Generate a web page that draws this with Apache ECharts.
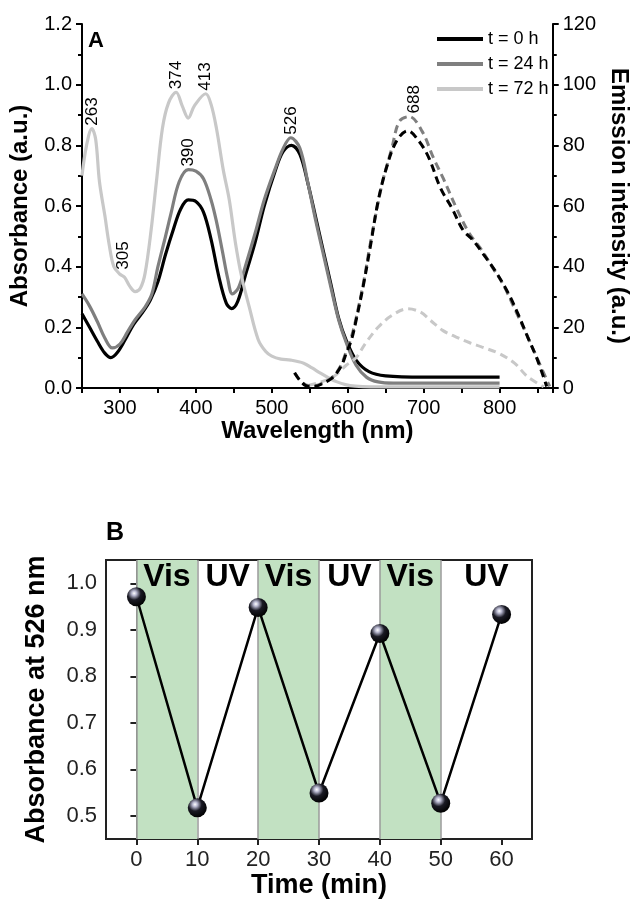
<!DOCTYPE html>
<html>
<head>
<meta charset="utf-8">
<script src="https://cdn.jsdelivr.net/npm/echarts@6/dist/echarts.min.js"></script>
<style>
  html, body { margin: 0; padding: 0; background: #fff; }
  #main { width: 639px; height: 902px; }
</style>
</head>
<body>
<div id="main"></div>
<script>
// ---- panel A: absorbance (solid) ----
var wl0 = [250, 260, 270, 280, 288, 296, 307, 318, 330, 340, 350, 360, 370, 380, 390, 400, 410, 420, 430, 440, 447, 455, 465, 478, 490, 505, 515, 526, 537, 548, 558, 568, 578, 588, 598, 611, 628, 650, 700, 750, 800]
var abs0 = [0.245, 0.20, 0.155, 0.115, 0.10, 0.115, 0.16, 0.21, 0.25, 0.29, 0.35, 0.44, 0.52, 0.59, 0.62, 0.615, 0.58, 0.49, 0.37, 0.28, 0.262, 0.285, 0.37, 0.48, 0.60, 0.72, 0.78, 0.80, 0.77, 0.67, 0.56, 0.45, 0.34, 0.23, 0.157, 0.092, 0.054, 0.04, 0.036, 0.036, 0.036]

var wl24 = [250, 260, 270, 280, 290, 300, 310, 320, 333, 342, 350, 360, 367, 378, 390, 400, 410, 420, 427, 435, 442, 448, 456, 465, 478, 490, 504, 515, 525, 537, 548, 558, 568, 578, 588, 598, 611, 625, 640, 660, 800]
var abs24 = [0.31, 0.27, 0.22, 0.165, 0.132, 0.145, 0.185, 0.225, 0.267, 0.31, 0.40, 0.50, 0.573, 0.68, 0.72, 0.715, 0.69, 0.62, 0.55, 0.45, 0.36, 0.31, 0.33, 0.40, 0.51, 0.62, 0.72, 0.79, 0.825, 0.79, 0.67, 0.55, 0.44, 0.33, 0.225, 0.15, 0.075, 0.035, 0.02, 0.016, 0.016]

var wl72 = [250, 256, 263, 268, 273, 280, 286, 292, 300, 306, 313, 320, 327, 333, 341, 348, 356, 364, 374, 382, 390, 398, 413, 420, 427, 436, 444, 452, 460, 470, 482, 492, 500, 512, 525, 542, 553, 564, 575, 585, 597, 610, 630, 800]
var abs72 = [0.70, 0.80, 0.855, 0.82, 0.68, 0.57, 0.47, 0.40, 0.375, 0.365, 0.335, 0.318, 0.33, 0.377, 0.52, 0.68, 0.857, 0.94, 0.975, 0.93, 0.89, 0.93, 0.97, 0.935, 0.857, 0.72, 0.62, 0.48, 0.37, 0.27, 0.16, 0.12, 0.105, 0.095, 0.092, 0.082, 0.066, 0.049, 0.033, 0.021, 0.011, 0.006, 0.004, 0.004]

// ---- panel A: emission (dashed) ----
var ewl0 = [530, 538, 548, 558, 568, 578, 585, 592, 598, 605, 611, 621, 630, 640, 651, 664, 679, 694, 707, 722, 737, 752, 764, 779, 794, 812, 825, 837, 850, 862]
var em0 = [5.0, 2.2, 0.5, 0.6, 1.6, 3.0, 4.8, 7.5, 11.4, 16, 22.3, 34.4, 47, 61.6, 72.6, 81.3, 84.8, 81.3, 75.8, 66, 59.4, 52, 49, 44, 38.7, 31, 24, 16.8, 9.2, 0.5]

var ewl24 = [530, 538, 548, 558, 568, 578, 585, 592, 598, 605, 611, 621, 630, 645, 658, 668, 681, 698, 713, 726, 743, 760, 775, 790, 805, 820, 835, 850, 866]
var em24 = [5.0, 2.4, 0.8, 0.8, 1.8, 3.2, 5, 8, 12, 17, 23, 35, 48, 67, 79, 87.9, 89.5, 84.6, 75.8, 69, 59.4, 51, 46, 40, 34, 26, 18, 9.5, 0.5]

var ewl72 = [548, 565, 581, 598, 611, 623, 640, 658, 679, 696, 709, 725, 743, 760, 777, 799, 820, 837, 858]
var em72 = [0.8, 2.0, 3.7, 7.5, 10, 14.6, 20, 23.9, 26.1, 25, 22.3, 19, 16.8, 15, 13.5, 11.4, 8.1, 3.7, 0.4]

// peak labels
var peakWl = [263, 305, 374, 390, 413, 526]
var peakAbs = [0.855, 0.38, 0.975, 0.72, 0.97, 0.825]
var emPeakWl = [688]
var emPeakVal = [89.5]

// ---- panel B ----
var times = [0, 10, 20, 30, 40, 50, 60]
var abs526 = [0.971, 0.517, 0.948, 0.549, 0.892, 0.527, 0.933]
var visBands = [[0, 10], [20, 30], [40, 50]]
var uvBands = [[10, 20], [30, 40], [50, 65]]
var bandEdges = [0, 10, 20, 30, 40, 50]

var FONT = 'Liberation Sans, Arial, sans-serif'
var names = ['t = 0 h', 't = 24 h', 't = 72 h']
var colors = ['#000000', '#7f7f7f', '#c8c8c8']

function zip (xs, ys) {
  return xs.map(function (x, i) { return [x, ys[i]] })
}

function absSeries (name, color, xs, ys) {
  return {
    name: name,
    type: 'line',
    xAxisIndex: 0,
    yAxisIndex: 0,
    data: zip(xs, ys),
    showSymbol: false,
    symbol: 'none',
    smooth: 0.35,
    lineStyle: { color: color, width: 3.2 },
    itemStyle: { color: color },
    z: 3
  }
}

function emSeries (name, color, xs, ys) {
  return {
    name: name,
    type: 'line',
    xAxisIndex: 0,
    yAxisIndex: 1,
    data: zip(xs, ys),
    showSymbol: false,
    symbol: 'none',
    smooth: 0.35,
    lineStyle: { color: color, width: 3, type: [8, 5] },
    itemStyle: { color: color },
    z: 4
  }
}

var peakLabel = {
  show: true,
  rotate: 90,
  position: 'top',
  distance: 3,
  align: 'left',
  verticalAlign: 'middle',
  fontSize: 17,
  color: '#000',
  fontFamily: FONT,
  formatter: function (p) { return String(p.value[0]) }
}

var axisLine2 = { show: true, lineStyle: { color: '#000', width: 2 } }

var ball = {
  type: 'radial',
  x: 0.38,
  y: 0.32,
  r: 0.7,
  colorStops: [
    { offset: 0, color: '#ffffff' },
    { offset: 0.18, color: '#b8b8d0' },
    { offset: 0.5, color: '#1a1a24' },
    { offset: 1, color: '#000000' }
  ]
}

var option = {
  backgroundColor: '#fff',
  animation: false,
  textStyle: { fontFamily: FONT },
  grid: [
    { left: 82, top: 24, width: 483, height: 364 },
    { left: 106, top: 560, width: 426, height: 279, show: true, borderColor: '#222', borderWidth: 2 }
  ],
  legend: {
    data: names,
    orient: 'vertical',
    left: 437,
    top: 30,
    padding: 0,
    icon: 'rect',
    itemWidth: 46,
    itemHeight: 4,
    itemGap: 7,
    textStyle: { fontSize: 18, color: '#000', fontFamily: FONT, lineHeight: 18 }
  },
  graphic: [
    { type: 'text', left: 88, top: 30, style: { text: 'A', fontSize: 22, fontWeight: 'bold', fill: '#000', fontFamily: FONT } },
    { type: 'text', left: 106, top: 521, style: { text: 'B', fontSize: 25, fontWeight: 'bold', fill: '#000', fontFamily: FONT } }
  ],
  xAxis: [
    {
      gridIndex: 0,
      type: 'value',
      min: 250,
      max: 870,
      interval: 50,
      position: 'bottom',
      name: 'Wavelength (nm)',
      nameLocation: 'middle',
      nameGap: 26,
      nameTextStyle: { fontSize: 24, fontWeight: 'bold', color: '#000' },
      axisLine: axisLine2,
      axisTick: { show: true, inside: false, length: 5, lineStyle: { color: '#000', width: 2 } },
      axisLabel: {
        fontSize: 20,
        color: '#000',
        margin: 10,
        formatter: function (v) { return (v % 100 === 0 && v >= 300 && v <= 800) ? String(v) : '' }
      },
      splitLine: { show: false }
    },
    {
      gridIndex: 0,
      type: 'value',
      min: 250,
      max: 870,
      interval: 50,
      position: 'top',
      axisLine: axisLine2,
      axisTick: { show: true, inside: true, length: 5, lineStyle: { color: '#000', width: 2 } },
      axisLabel: { show: false },
      splitLine: { show: false }
    },
    {
      gridIndex: 1,
      type: 'value',
      min: -5,
      max: 65,
      name: 'Time (min)',
      nameLocation: 'middle',
      nameGap: 32,
      nameTextStyle: { fontSize: 27, fontWeight: 'bold', color: '#000' },
      axisLine: { show: true, lineStyle: { color: '#222', width: 2 } },
      axisTick: { show: true, length: 6, customValues: times, lineStyle: { color: '#222', width: 2 } },
      axisLabel: { fontSize: 22, color: '#222', margin: 10, customValues: times },
      splitLine: { show: false }
    }
  ],
  yAxis: [
    {
      gridIndex: 0,
      type: 'value',
      min: 0,
      max: 1.2,
      interval: 0.2,
      position: 'left',
      name: 'Absorbance (a.u.)',
      nameLocation: 'middle',
      nameGap: 50,
      nameTextStyle: { fontSize: 24, fontWeight: 'bold', color: '#000' },
      axisLine: axisLine2,
      axisTick: { show: true, length: 6, lineStyle: { color: '#000', width: 2 } },
      minorTick: { show: true, splitNumber: 2, length: 4, lineStyle: { color: '#000', width: 2 } },
      axisLabel: { fontSize: 20, color: '#000', margin: 10, formatter: function (v) { return v.toFixed(1) } },
      splitLine: { show: false }
    },
    {
      gridIndex: 0,
      type: 'value',
      min: 0,
      max: 120,
      interval: 20,
      position: 'right',
      name: 'Emission intensity (a.u.)',
      nameLocation: 'middle',
      nameRotate: -90,
      nameGap: 48,
      nameTextStyle: { fontSize: 24, fontWeight: 'bold', color: '#000' },
      axisLine: axisLine2,
      axisTick: { show: true, length: 6, lineStyle: { color: '#000', width: 2 } },
      minorTick: { show: true, splitNumber: 2, length: 4, lineStyle: { color: '#000', width: 2 } },
      axisLabel: { fontSize: 20, color: '#000', margin: 10 },
      splitLine: { show: false }
    },
    {
      gridIndex: 1,
      type: 'value',
      min: 0.45,
      max: 1.05,
      name: 'Absorbance at 526 nm',
      nameLocation: 'middle',
      nameGap: 56,
      nameTextStyle: { fontSize: 27, fontWeight: 'bold', color: '#000' },
      axisLine: { show: true, lineStyle: { color: '#222', width: 2 } },
      axisTick: { show: true, length: 6, customValues: [0.5, 0.6, 0.7, 0.8, 0.9, 1.0], lineStyle: { color: '#222', width: 2 } },
      axisLabel: {
        fontSize: 22,
        color: '#222',
        margin: 9,
        customValues: [0.5, 0.6, 0.7, 0.8, 0.9, 1.0],
        formatter: function (v) { return v.toFixed(1) }
      },
      splitLine: { show: false }
    }
  ],
  series: [
    absSeries(names[0], colors[0], wl0, abs0),
    absSeries(names[1], colors[1], wl24, abs24),
    absSeries(names[2], colors[2], wl72, abs72),
    emSeries('em 72 h', colors[2], ewl72, em72),
    emSeries('em 24 h', colors[1], ewl24, em24),
    emSeries('em 0 h', colors[0], ewl0, em0),
    {
      name: 'abs peaks',
      type: 'scatter',
      xAxisIndex: 0,
      yAxisIndex: 0,
      symbolSize: 0,
      silent: true,
      itemStyle: { opacity: 1 },
      data: zip(peakWl, peakAbs),
      label: peakLabel,
      z: 5
    },
    {
      name: 'em peaks',
      type: 'scatter',
      xAxisIndex: 0,
      yAxisIndex: 1,
      symbolSize: 0,
      silent: true,
      itemStyle: { opacity: 1 },
      data: zip(emPeakWl, emPeakVal),
      label: peakLabel,
      z: 5
    },
    {
      name: 'cycles',
      type: 'line',
      xAxisIndex: 2,
      yAxisIndex: 2,
      data: zip(times, abs526),
      symbol: 'circle',
      symbolSize: 19,
      lineStyle: { color: '#000', width: 2.5 },
      itemStyle: { color: ball, borderWidth: 0 },
      z: 5,
      markArea: {
        silent: true,
        itemStyle: { color: '#c2e1c2' },
        label: {
          show: true,
          position: 'insideTop',
          distance: 1,
          fontSize: 32,
          fontWeight: 'bold',
          color: '#000',
          fontFamily: FONT
        },
        data: visBands.map(function (b) {
          return [{ xAxis: b[0], name: 'Vis' }, { xAxis: b[1] }]
        }).concat(uvBands.map(function (b) {
          return [{ xAxis: b[0], name: 'UV', itemStyle: { color: 'rgba(0,0,0,0)' } }, { xAxis: b[1] }]
        }))
      },
      markLine: {
        silent: true,
        symbol: 'none',
        label: { show: false },
        lineStyle: { color: '#9a9a9a', width: 1.5, type: 'solid' },
        data: bandEdges.map(function (x) { return { xAxis: x } })
      }
    }
  ]
}

var chart = echarts.init(document.getElementById('main'), null, { renderer: 'canvas' })
chart.setOption(option)
</script>
</body>
</html>
